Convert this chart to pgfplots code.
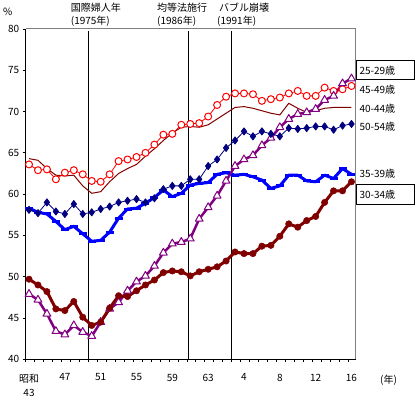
\documentclass[border=0pt]{standalone}
\usepackage{fontspec}
\setmainfont{Noto Sans CJK JP}
\usepackage{pgfplots}
\pgfplotsset{compat=1.18}
\usepackage{pgfplotstable}
\definecolor{cA}{RGB}{128,0,128}
\definecolor{cB}{RGB}{128,0,0}
\definecolor{cC}{RGB}{0,0,255}
\definecolor{cD}{RGB}{128,0,0}
\definecolor{cE}{RGB}{255,0,0}
\definecolor{cF}{RGB}{0,0,128}
\pgfplotstableread{
year a b c d e f
1968 47.9 49.7 58.3 64.3 63.6 58.1
1969 47.2 49.0 57.8 64.1 62.9 57.7
1970 45.5 48.2 57.6 63.1 63.0 59.0
1971 43.4 46.1 56.7 62.3 61.8 57.9
1972 43.0 45.9 55.7 62.2 62.6 57.6
1973 44.1 47.0 56.1 62.3 62.9 58.8
1974 43.3 45.1 55.2 61.0 62.4 57.6
1975 42.8 44.1 54.3 60.1 61.6 57.8
1976 44.5 44.5 54.4 60.3 61.5 58.2
1977 46.1 46.2 55.4 61.5 62.4 58.5
1978 46.9 47.7 57.1 62.5 64.0 59.0
1979 48.3 47.6 58.2 63.1 64.2 59.2
1980 49.4 48.3 58.3 63.6 64.5 59.4
1981 50.1 49.0 58.9 64.6 65.0 59.0
1982 51.3 49.6 59.6 65.5 66.0 59.5
1983 52.9 50.5 60.5 66.5 67.2 60.6
1984 54.0 50.7 59.7 67.4 67.3 61.0
1985 54.2 50.6 60.1 68.1 68.4 61.0
1986 54.6 50.1 61.1 68.2 68.5 61.8
1987 57.0 50.6 61.3 68.1 68.6 61.8
1988 58.4 50.9 61.4 68.4 69.4 63.4
1989 59.8 51.2 62.4 69.1 70.8 64.2
1990 61.6 51.9 62.6 69.8 71.8 65.6
1991 63.4 53.0 62.3 70.5 72.2 66.5
1992 64.2 52.8 62.4 70.6 72.2 67.6
1993 64.7 52.8 62.1 70.4 72.1 67.0
1994 65.9 53.7 61.7 70.1 71.3 67.6
1995 66.8 53.8 60.7 69.8 71.5 67.3
1996 68.1 54.9 61.0 69.6 71.7 67.0
1997 69.1 56.4 62.3 71.0 72.2 68.0
1998 69.7 56.0 62.3 70.4 72.5 67.9
1999 69.9 56.8 61.6 69.9 71.9 68.0
2000 70.3 57.3 61.5 70.1 71.9 68.2
2001 71.4 59.0 62.3 70.4 72.9 68.2
2002 71.9 60.4 61.9 70.5 72.5 67.8
2003 73.4 60.4 63.1 70.5 72.7 68.3
2004 74.0 61.5 62.4 70.5 73.1 68.5
}\data
\begin{document}
\begin{tikzpicture}[font=\fontsize{10bp}{12bp}\selectfont]
\path[use as bounding box] (0,0) rectangle (418bp,398bp);
\begin{axis}[at={(25.7bp,38.7bp)}, anchor=south west, scale only axis,
  width=330bp, height=330.3bp,
  xmin=1967.63, xmax=2004.47, ymin=40, ymax=80,
  axis x line*=bottom, axis y line*=left,
  axis line style={black, line width=1bp},
  ytick={40,45,...,80},
  xtick={1968,1972,...,2004},
  xticklabels={{昭和\\43},47,51,55,59,63,4,8,12,16},
  xticklabel style={align=center, anchor=north, yshift=-8bp, font=\fontsize{10bp}{14bp}\selectfont},
  major x tick style={draw=none},
  minor xtick={1967.63,1968.63,...,2003.63},
  minor tick length=3bp, major tick length=3bp,
  tick align=outside,
  tick style={black, line width=0.8bp},
  /pgf/number format/assume math mode=true,
  clip=false,
  every axis plot/.append style={line join=round},
]
\draw[gray, line width=1bp] (rel axis cs:0,1) -- (rel axis cs:1,1) -- (rel axis cs:1,0);
\addplot[black, line width=1bp] coordinates {(1974.63,40) (1974.63,79.8)};
\addplot[black, line width=1bp] coordinates {(1985.84,40) (1985.84,79.8)};
\addplot[black, line width=1bp] coordinates {(1990.57,40) (1990.57,79.8)};
\addplot[cD, line width=1bp] table[x=year,y=d]{\data};
\addplot[cE, line width=0.8bp, mark=*, mark size=3.5bp, mark options={fill=white, draw=cE, line width=1bp}] table[x=year,y=e]{\data};
\addplot[cC, line width=3bp, mark=-, mark size=4bp, mark options={line width=3bp}] table[x=year,y=c]{\data};
\addplot[cA, line width=2.5bp, mark=triangle*, mark size=4.5bp, mark options={fill=white, draw=cA, line width=1bp}] table[x=year,y=a]{\data};
\addplot[cB, line width=3bp, mark=*, mark size=3.2bp, mark options={line width=0.5bp}] table[x=year,y=b]{\data};
\addplot[cF, line width=0.8bp, mark=diamond*, mark size=3.6bp] table[x=year,y=f]{\data};
\end{axis}
\node[anchor=west, inner sep=0] at (70.7bp,390.7bp) {国際婦人年};
\node[anchor=west, inner sep=0] at (70.7bp,376.3bp) {(1975年)};
\node[anchor=west, inner sep=0] at (157bp,390.7bp) {均等法施行};
\node[anchor=west, inner sep=0] at (157bp,376.3bp) {(1986年)};
\node[anchor=west, inner sep=0] at (219bp,390.7bp) {バブル崩壊};
\node[anchor=west, inner sep=0] at (217bp,376.3bp) {(1991年)};
\node[anchor=west, inner sep=0] at (3bp,386bp) {\%};
\draw[black, line width=1bp] (356bp,318bp) rectangle (414bp,337bp);
\node[anchor=west, inner sep=0] at (359.3bp,327.5bp) {25-29歳};
\node[anchor=west, inner sep=0] at (359.3bp,308.7bp) {45-49歳};
\node[anchor=west, inner sep=0] at (359.3bp,289.3bp) {40-44歳};
\node[anchor=west, inner sep=0] at (359.3bp,271.3bp) {50-54歳};
\node[anchor=west, inner sep=0] at (359.3bp,224bp) {35-39歳};
\draw[black, line width=1bp] (356bp,193bp) rectangle (414bp,213bp);
\node[anchor=west, inner sep=0] at (359.3bp,203bp) {30-34歳};
\node[anchor=west, inner sep=0] at (380bp,18bp) {(年)};
\end{tikzpicture}
\end{document}
